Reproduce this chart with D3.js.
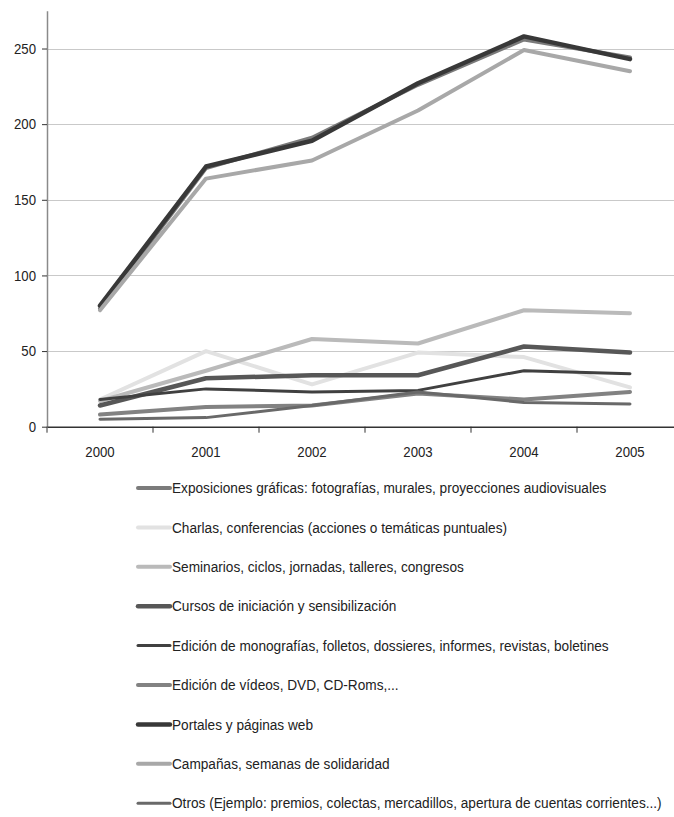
<!DOCTYPE html>
<html>
<head>
<meta charset="utf-8">
<script src="https://cdn.jsdelivr.net/npm/d3@7"></script>
<style>
  body { margin: 0; background: #fff; }
  svg { display: block; font-family: "Liberation Sans", Arial, sans-serif; }
</style>
</head>
<body>
<svg id="chart" width="674" height="817"></svg>
<script>
// Years on the x axis
var years = ["2000", "2001", "2002", "2003", "2004", "2005"];
var yTicks = [0, 50, 100, 150, 200, 250];

// Series names (legend order)
var seriesNames = [
    "Exposiciones gráficas: fotografías, murales, proyecciones audiovisuales",
    "Charlas, conferencias (acciones o temáticas puntuales)",
    "Seminarios, ciclos, jornadas, talleres, congresos",
    "Cursos de iniciación y sensibilización",
    "Edición de monografías, folletos, dossieres, informes, revistas, boletines",
    "Edición de vídeos, DVD, CD-Roms,...",
    "Portales y páginas web",
    "Campañas, semanas de solidaridad",
    "Otros (Ejemplo: premios, colectas, mercadillos, apertura de cuentas corrientes...)"
];

// Values per series, 2000..2005
var exposiciones = [78, 171, 191, 226, 256, 244];
var charlas      = [18, 50, 28, 49, 46, 26];
var seminarios   = [17, 37, 58, 55, 77, 75];
var cursos       = [14, 32, 34, 34, 53, 49];
var monografias  = [18, 25, 23, 24, 37, 35];
var videos       = [8, 13, 14, 22, 18, 23];
var portales     = [80, 172, 189, 227, 258, 243];
var campanas     = [77, 164, 176, 209, 249, 235];
var otros        = [5, 6, 14, 23, 16, 15];

var seriesValues = [exposiciones, charlas, seminarios, cursos, monografias, videos, portales, campanas, otros];
var seriesColors = ["#7b7b7b", "#e2e2e2", "#bababa", "#575757", "#404040", "#828282", "#383838", "#a8a8a8", "#696969"];
var seriesWidths = [4, 4, 4, 4.5, 3, 4, 4.5, 4, 3];

// the source font is a narrow sans; squeeze glyphs horizontally
var squeeze = 0.88;
var legendSqueeze = 0.91;

var svg = d3.select("#chart");

var x = d3.scaleBand().domain(years).range([47, 683]);
var y = d3.scaleLinear().domain([0, 275]).range([426.7, 10.7]);

// gridlines
svg.append("g")
    .selectAll("line")
    .data(yTicks.filter(d => d > 0))
    .enter().append("line")
    .attr("x1", 47).attr("x2", 674)
    .attr("y1", d => Math.round(y(d)) + 0.5)
    .attr("y2", d => Math.round(y(d)) + 0.5)
    .attr("stroke", "#c9c9c9")
    .attr("stroke-width", 1);

// y axis
var yAxis = svg.append("g")
    .attr("transform", "translate(47,0)")
    .call(d3.axisLeft(y).tickValues(yTicks).tickSize(5).tickPadding(5).tickSizeOuter(0));
yAxis.select(".domain").attr("stroke", "#8a8a8a").attr("stroke-width", 1.5);
yAxis.selectAll(".tick line").attr("stroke", "#333");
yAxis.selectAll(".tick text")
    .attr("font-size", 15).attr("fill", "#222").attr("font-family", null)
    .attr("x", -11 / squeeze)
    .attr("transform", "scale(" + squeeze + ",1)");

// x axis (labels centred in each band, ticks on band edges)
var xAxis = svg.append("g")
    .attr("transform", "translate(0," + y(0) + ")")
    .call(d3.axisBottom(x).tickSize(0).tickPadding(20).tickSizeOuter(0));
xAxis.select(".domain").attr("stroke", "#333").attr("stroke-width", 1.5);
xAxis.selectAll(".tick text")
    .attr("font-size", 15).attr("fill", "#222").attr("font-family", null)
    .attr("transform", "scale(" + squeeze + ",1)");
xAxis.selectAll(".edge")
    .data(years)
    .enter().append("line")
    .attr("class", "edge")
    .attr("x1", d => x(d)).attr("x2", d => x(d))
    .attr("y1", 0).attr("y2", 6)
    .attr("stroke", "#333");

// lines
var line = d3.line()
    .x((d, i) => x(years[i]) + x.bandwidth() / 2)
    .y(d => y(d));

svg.append("g")
    .selectAll("path")
    .data(seriesValues)
    .enter().append("path")
    .attr("d", line)
    .attr("fill", "none")
    .attr("stroke", (d, i) => seriesColors[i])
    .attr("stroke-width", (d, i) => seriesWidths[i])
    .attr("stroke-linejoin", "round")
    .attr("stroke-linecap", "round");

// legend
var legend = svg.append("g")
    .selectAll("g")
    .data(seriesNames)
    .enter().append("g")
    .attr("transform", (d, i) => "translate(137," + (488 + i * 39.4) + ")");

legend.append("line")
    .attr("x1", 1).attr("x2", 33)
    .attr("stroke", (d, i) => seriesColors[i])
    .attr("stroke-width", (d, i) => seriesWidths[i])
    .attr("stroke-linecap", "round");

legend.append("text")
    .attr("x", 35 / legendSqueeze)
    .attr("dy", "0.35em")
    .attr("font-size", 15)
    .attr("fill", "#222")
    .attr("transform", "scale(" + legendSqueeze + ",1)")
    .text(d => d);
</script>
</body>
</html>
